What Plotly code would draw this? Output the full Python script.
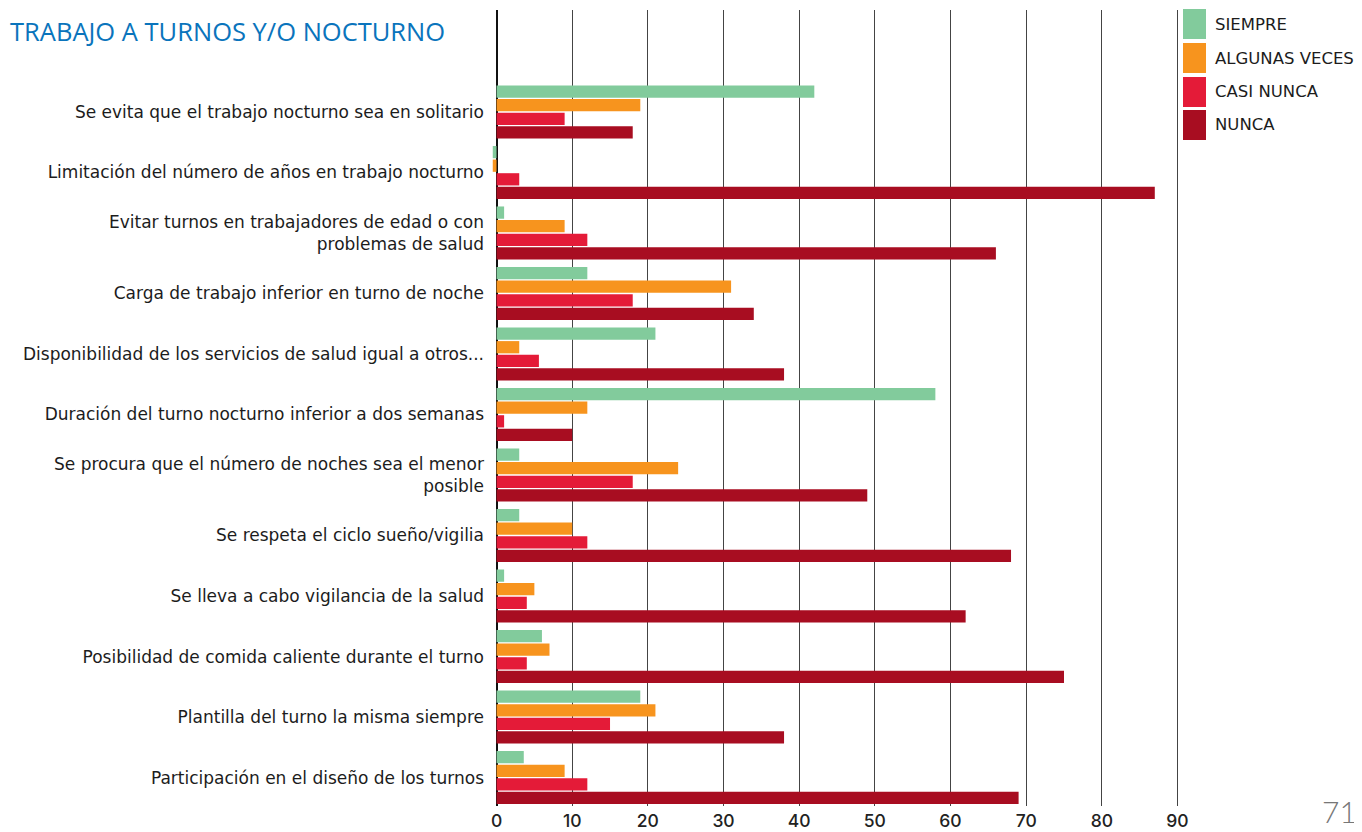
import plotly.graph_objects as go

categories = [
    "Se evita que el trabajo nocturno sea en solitario",
    "Limitación del número de años en trabajo nocturno",
    "Evitar turnos en trabajadores de edad o con<br>problemas de salud",
    "Carga de trabajo inferior en turno de noche",
    "Disponibilidad de los servicios de salud igual a otros...",
    "Duración del turno nocturno inferior a dos semanas",
    "Se procura que el número de noches sea el menor<br>posible",
    "Se respeta el ciclo sueño/vigilia",
    "Se lleva a cabo vigilancia de la salud",
    "Posibilidad de comida caliente durante el turno",
    "Plantilla del turno la misma siempre",
    "Participación en el diseño de los turnos",
]
series_names = ["SIEMPRE", "ALGUNAS VECES", "CASI NUNCA", "NUNCA"]
siempre = [42, -0.5, 1, 12, 21, 58, 3, 3, 1, 6, 19, 3.6]
algunas_veces = [19, -0.5, 9, 31, 3, 12, 24, 10, 5, 7, 21, 9]
casi_nunca = [9, 3, 12, 18, 5.6, 1, 18, 12, 4, 4, 15, 12]
nunca = [18, 87, 66, 34, 38, 10, 49, 68, 62, 75, 38, 69]
x_ticks = [0, 10, 20, 30, 40, 50, 60, 70, 80, 90]
colors = ["#82CB9C", "#F7941E", "#E41B38", "#A80D21"]
title_text = "TRABAJO A TURNOS Y/O NOCTURNO"
page_number = "71"

# page body has an 8px margin, so the figure is placed at (8, 8)
OFF = 8
W, H = 1362 - OFF, 832 - OFF
L, R, T, B = 492 - OFF, 1179 - OFF, 10 - OFF, 806 - OFF

def px(x):
    return (x - OFF - L) / (R - L)

def py(y):
    return (B - (y - OFF)) / (B - T)

fig = go.Figure()
for name, vals, col in zip(series_names, [siempre, algunas_veces, casi_nunca, nunca], colors):
    fig.add_trace(go.Bar(
        y=categories, x=vals, name=name, orientation="h",
        marker=dict(color=col, line=dict(width=0)), showlegend=False,
    ))

font_label = "DejaVu Sans, Verdana, sans-serif"
font_tick = "Inter, Liberation Sans, Arial, sans-serif"

# custom legend (large swatches), positions given in page pixels
legend_rows = [(9, 39), (43, 73), (77, 107), (110, 140)]
for (y0, y1), name, col in zip(legend_rows, series_names, colors):
    fig.add_shape(type="rect", xref="paper", yref="paper",
                  x0=px(1183), x1=px(1206), y0=py(y1), y1=py(y0),
                  fillcolor=col, line=dict(width=0))
    fig.add_annotation(xref="paper", yref="paper", x=px(1213), y=py((y0 + y1) / 2),
                       text=name, showarrow=False, xanchor="left", yanchor="middle",
                       font=dict(family=font_label, size=16.5, color="#1c1c1c"))

fig.add_annotation(xref="paper", yref="paper", x=px(8), y=py(31),
                   text=title_text, showarrow=False, xanchor="left", yanchor="middle",
                   font=dict(family="Open Sans, sans-serif", size=25.5, color="#0A74BC"))
fig.add_annotation(xref="paper", yref="paper", x=px(1359), y=py(811),
                   text=page_number, showarrow=False, xanchor="right", yanchor="middle",
                   font=dict(family="Lato, sans-serif", size=30, weight=300, color="#777777"))

fig.update_layout(
    width=W, height=H,
    margin=dict(l=L, r=W - R, t=T, b=H - B, pad=0, autoexpand=False),
    paper_bgcolor="white", plot_bgcolor="white",
    barmode="group", bargap=0.1, bargroupgap=0.1,
    font=dict(family=font_label, color="#1c1c1c"),
)
fig.update_xaxes(
    automargin=False,
    range=[-0.6, 90.2], tickvals=x_ticks, ticktext=[str(v) for v in x_ticks],
    showgrid=True, gridcolor="#444444", gridwidth=1.3,
    zeroline=True, zerolinecolor="#111111", zerolinewidth=1.5,
    showline=False, ticks="",
    tickfont=dict(family=font_tick, size=17.5, weight=500, color="#222222"),
    ticklabelstandoff=2,
)
fig.update_yaxes(
    automargin=False,
    range=[11.47, -1.686], showgrid=False, zeroline=False, showline=False,
    tickfont=dict(family=font_label, size=17, color="#1c1c1c"),
    ticklabelstandoff=7,
)

fig.write_html("out.html")
